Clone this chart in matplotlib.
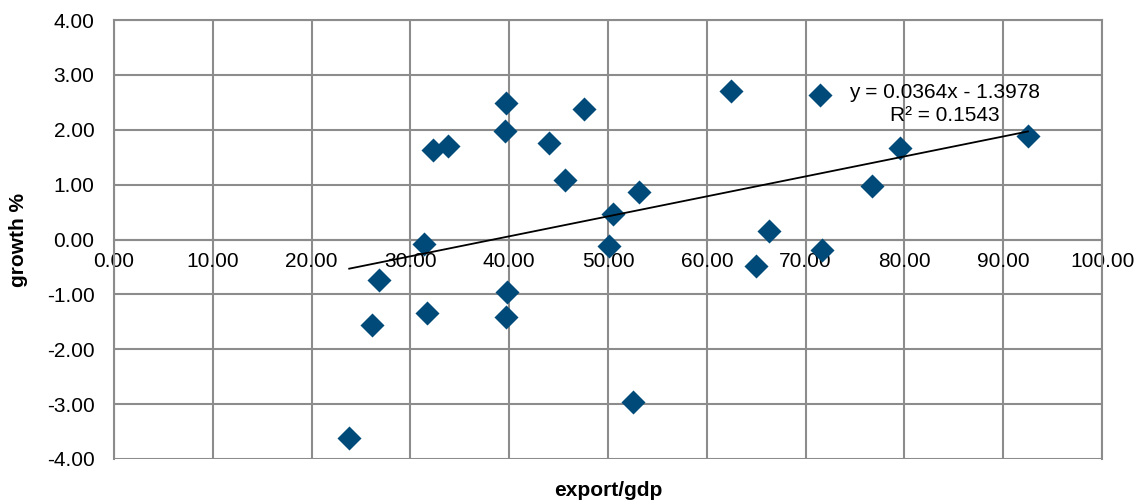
import matplotlib
matplotlib.use('Agg')
import matplotlib.pyplot as plt
import numpy as np

plt.rcParams['font.family'] = ['Liberation Sans', 'DejaVu Sans']

# export/gdp vs growth %
export_gdp = [23.8, 26.1, 26.8, 31.4, 31.7, 32.3, 33.8, 39.7, 39.6, 39.8,
              39.7, 44.0, 45.6, 47.6, 50.1, 50.5, 53.1, 52.5, 62.4, 65.0,
              66.3, 71.5, 71.7, 76.7, 79.5, 92.5]
growth = [-3.61, -1.56, -0.73, -0.09, -1.34, 1.64, 1.70, 2.48, 1.97, -0.96,
          -1.41, 1.75, 1.08, 2.37, -0.12, 0.47, 0.87, -2.96, 2.71, -0.49,
          0.15, 2.64, -0.20, 0.97, 1.67, 1.88]

slope, intercept = 0.0364, -1.3978
r2 = 0.1543

x_ticks = np.arange(0, 101, 10)
y_ticks = np.arange(-4, 5, 1)

fig = plt.figure(figsize=(11.37, 5), dpi=100)
ax = fig.add_axes([0.1003, 0.082, 0.869, 0.878])

grid_col = '#8c8c8c'
ax.set_xlim(0, 100)
ax.set_ylim(-4, 4)
ax.set_xticks(x_ticks)
ax.set_yticks(y_ticks)
ax.set_xticklabels(['%.2f' % v for v in x_ticks])
ax.set_yticklabels(['%.2f' % v for v in y_ticks])
ax.grid(True, color=grid_col, linewidth=1.5, solid_capstyle='butt')
ax.set_axisbelow(True)

for side in ['left', 'right', 'top', 'bottom']:
    ax.spines[side].set_color(grid_col)
    ax.spines[side].set_linewidth(1.5)
ax.spines['bottom'].set_position(('data', 0))

ax.tick_params(axis='both', length=0, labelsize=15, colors='black')
ax.tick_params(axis='x', pad=9)
ax.tick_params(axis='y', pad=14)

ax.scatter(export_gdp, growth, marker='D', s=150, color='#004A7A', zorder=3,
           linewidths=0)

xs = np.array([min(export_gdp), max(export_gdp)])
ax.plot(xs, slope * xs + intercept, color='black', linewidth=1.3, zorder=4)

ax.text(84.1, 2.47, 'y = %.4fx - %.4f\nR² = %.4f' % (slope, -intercept, r2),
        ha='center', va='center', fontsize=15, linespacing=1.25)

fig.text(0.535, 0.02, 'export/gdp', ha='center', va='center',
         fontsize=15, fontweight='bold')
fig.text(0.016, 0.52, 'growth %', ha='center', va='center', rotation=90,
         fontsize=15, fontweight='bold')

fig.savefig('out.png', dpi=100)
